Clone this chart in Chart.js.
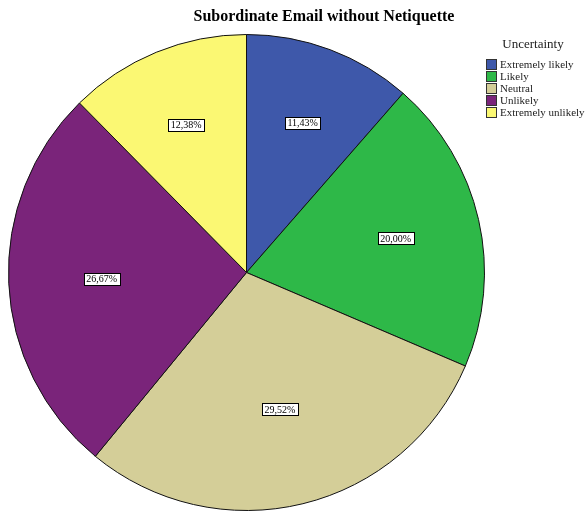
<!DOCTYPE html>
<html>
<head>
<meta charset="utf-8">
<script src="https://cdn.jsdelivr.net/npm/chart.js@4"></script>
<style>
html,body{margin:0;padding:0;background:#fff;}
#wrap{width:585px;height:511px;position:relative;}
</style>
</head>
<body>
<div id="wrap"><canvas id="c" width="585" height="511"></canvas></div>
<script>
const chartTitle = 'Subordinate Email without Netiquette';
const legendTitle = 'Uncertainty';
const categories = ['Extremely likely', 'Likely', 'Neutral', 'Unlikely', 'Extremely unlikely'];
const counts = [12, 21, 31, 28, 13];
const colors = ['#3e58aa', '#2eb848', '#d4ce98', '#7a247a', '#fbf873'];

const total = counts.reduce((a, b) => a + b, 0);
const fmtPct = v => (v / total * 100).toFixed(2).replace('.', ',') + '%';
const SERIF = '"Liberation Serif", "Times New Roman", serif';

const decorPlugin = {
  id: 'decor',
  afterDatasetsDraw(chart) {
    const ctx = chart.ctx;
    const meta = chart.getDatasetMeta(0);
    ctx.save();
    // slice labels at sector centroid
    ctx.font = '10px ' + SERIF;
    ctx.textAlign = 'center';
    ctx.textBaseline = 'middle';
    meta.data.forEach((arc, i) => {
      const p = arc.getProps(['x', 'y', 'startAngle', 'endAngle', 'outerRadius']);
      const th = p.endAngle - p.startAngle;
      const mid = (p.startAngle + p.endAngle) / 2;
      const d = p.outerRadius * (2 / 3) * Math.sin(th / 2) / (th / 2) * 1.03;
      const lx = p.x + Math.cos(mid) * d;
      const ly = p.y + Math.sin(mid) * d;
      const txt = fmtPct(counts[i]);
      const w = ctx.measureText(txt).width + 5;
      const h = 12;
      ctx.fillStyle = '#ffffff';
      ctx.fillRect(Math.round(lx - w / 2) + 0.5, Math.round(ly - h / 2) + 0.5, Math.round(w), h);
      ctx.strokeStyle = '#000000';
      ctx.lineWidth = 1;
      ctx.strokeRect(Math.round(lx - w / 2) + 0.5, Math.round(ly - h / 2) + 0.5, Math.round(w), h);
      ctx.fillStyle = '#000000';
      ctx.fillText(txt, lx, ly + 0.5);
    });
    ctx.restore();
  },
  afterDraw(chart) {
    const ctx = chart.ctx;
    ctx.save();
    // title
    ctx.fillStyle = '#000';
    ctx.font = 'bold 16px ' + SERIF;
    ctx.textAlign = 'center';
    ctx.textBaseline = 'middle';
    ctx.fillText(chartTitle, 324, 17);
    // legend
    ctx.font = '13px ' + SERIF;
    ctx.fillStyle = '#222';
    ctx.fillText(legendTitle, 533, 45);
    ctx.font = '11px ' + SERIF;
    ctx.textAlign = 'left';
    categories.forEach((c, i) => {
      const y = 59 + i * 12;
      ctx.fillStyle = colors[i];
      ctx.fillRect(486.5, y + 0.5, 10, 10);
      ctx.strokeStyle = '#333';
      ctx.lineWidth = 1;
      ctx.strokeRect(486.5, y + 0.5, 10, 10);
      ctx.fillStyle = '#222';
      ctx.fillText(c, 500, y + 6);
    });
    ctx.restore();
  }
};

new Chart(document.getElementById('c'), {
  type: 'pie',
  data: {
    labels: categories,
    datasets: [{
      data: counts,
      backgroundColor: colors,
      borderColor: '#111111',
      borderWidth: 1,
      hoverOffset: 0,
      offset: 0
    }]
  },
  options: {
    responsive: false,
    animation: false,
    layout: { padding: { left: 8, right: 100, top: 34, bottom: 0 } },
    plugins: {
      legend: { display: false },
      title: { display: false },
      tooltip: { enabled: false }
    }
  },
  plugins: [decorPlugin]
});
</script>
</body>
</html>
